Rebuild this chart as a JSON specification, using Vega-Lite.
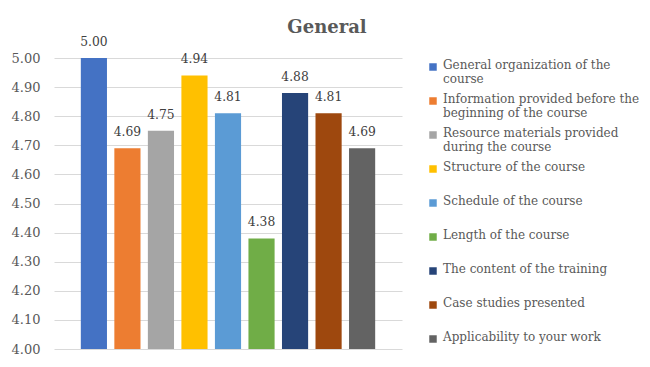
{
  "$schema": "https://vega.github.io/schema/vega-lite/v6.json",
  "width": 348,
  "height": 291,
  "padding": {"left": 11, "top": 19, "right": 10, "bottom": 18},
  "background": "white",
  "title": {
    "text": "General",
    "font": "DejaVu Serif",
    "fontSize": 18,
    "fontWeight": "bold",
    "color": "#595959",
    "anchor": "middle",
    "frame": "bounds",
    "offset": -1
  },
  "data": {
    "values": [
      {"item": "General organization of the course", "score": 5.00},
      {"item": "Information provided before the beginning of the course", "score": 4.69},
      {"item": "Resource materials provided during the course", "score": 4.75},
      {"item": "Structure of the course", "score": 4.94},
      {"item": "Schedule of the course", "score": 4.81},
      {"item": "Length of the course", "score": 4.38},
      {"item": "The content of the training", "score": 4.88},
      {"item": "Case studies presented", "score": 4.81},
      {"item": "Applicability to your work", "score": 4.69}
    ]
  },
  "encoding": {
    "x": {
      "field": "item",
      "type": "nominal",
      "sort": null,
      "axis": null,
      "scale": {"paddingInner": 0.22, "paddingOuter": 0.8}
    },
    "y": {
      "field": "score",
      "type": "quantitative",
      "scale": {"domain": [4, 5], "zero": false},
      "axis": {
        "title": null,
        "values": [4, 4.1, 4.2, 4.3, 4.4, 4.5, 4.6, 4.7, 4.8, 4.9, 5],
        "format": ".2f",
        "domain": false,
        "ticks": false,
        "labelPadding": 14,
        "labelFont": "DejaVu Serif",
        "labelFontSize": 13,
        "labelColor": "#595959",
        "gridColor": "#D9D9D9",
        "gridWidth": 1
      }
    }
  },
  "layer": [
    {
      "mark": {"type": "bar", "clip": true},
      "encoding": {
        "color": {
          "field": "item",
          "type": "nominal",
          "sort": null,
          "scale": {
            "domain": [
              "General organization of the course",
              "Information provided before the beginning of the course",
              "Resource materials provided during the course",
              "Structure of the course",
              "Schedule of the course",
              "Length of the course",
              "The content of the training",
              "Case studies presented",
              "Applicability to your work"
            ],
            "range": ["#4472C4", "#ED7D31", "#A5A5A5", "#FFC000", "#5B9BD5", "#70AD47", "#264478", "#9E480E", "#636363"]
          },
          "legend": {
            "title": null,
            "orient": "right",
            "offset": 22,
            "padding": 3,
            "symbolType": "square",
            "symbolSize": 56,
            "symbolStrokeWidth": 0,
            "labelFont": "DejaVu Serif",
            "labelFontSize": 12,
            "labelColor": "#595959",
            "labelLimit": 260,
            "labelOffset": 4,
            "labelBaseline": "top",
            "rowPadding": 8,
            "labelExpr": "datum.label == 'General organization of the course' ? ['General organization of the', 'course'] : datum.label == 'Information provided before the beginning of the course' ? ['Information provided before the', 'beginning of the course'] : datum.label == 'Resource materials provided during the course' ? ['Resource materials provided', 'during the course'] : [datum.label, '']",
            "encode": {
              "labels": {
                "update": {"dy": {"value": -7}}
              }
            }
          }
        }
      }
    },
    {
      "mark": {
        "type": "text",
        "baseline": "bottom",
        "dy": -9,
        "font": "DejaVu Serif",
        "fontSize": 12.3,
        "color": "#404040"
      },
      "encoding": {
        "text": {"field": "score", "type": "quantitative", "format": ".2f"}
      }
    }
  ],
  "config": {
    "view": {"stroke": null}
  }
}
